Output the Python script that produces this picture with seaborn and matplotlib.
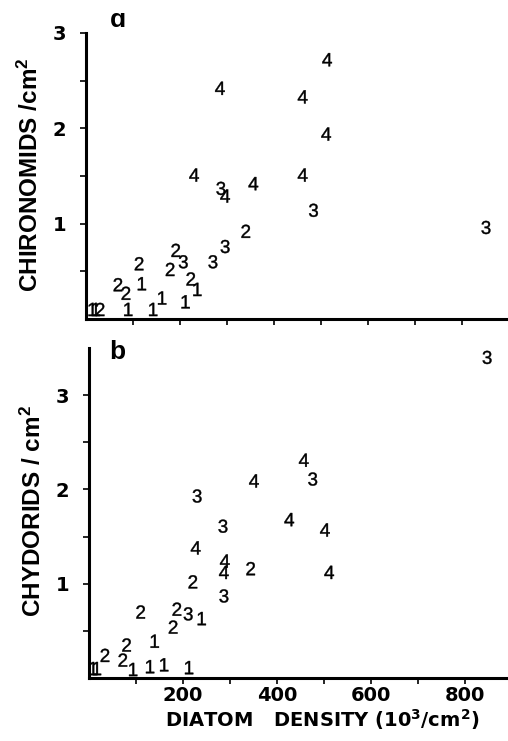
import pandas as pd
import matplotlib.pyplot as plt
import seaborn as sns

# panel a: chironomids vs diatom density, each point drawn as its class digit
a_x = [513, 285, 461, 511, 230, 461, 356, 287, 296, 484, 851, 340, 296, 270, 191,
       207, 179, 113, 68, 85, 119, 223, 237, 162, 212, 90, 143, 14, 21, 30]
a_y = [2.72, 2.42, 2.33, 1.94, 1.51, 1.51, 1.42, 1.37, 1.29, 1.14, 0.96, 0.92, 0.76, 0.60, 0.72,
       0.60, 0.52, 0.58, 0.36, 0.27, 0.37, 0.42, 0.31, 0.22, 0.18, 0.10, 0.10, 0.10, 0.10, 0.10]
a_code = [4, 4, 4, 4, 4, 4, 4, 3, 4, 3, 3, 2, 3, 3, 2,
          3, 2, 2, 2, 2, 1, 2, 1, 1, 1, 1, 1, 1, 1, 2]

# panel b: chydorids vs diatom density
b_x = [847, 457, 476, 351, 230, 426, 285, 502, 227, 289, 344, 287, 511, 221, 287,
       110, 187, 211, 240, 179, 140, 80, 34, 72, 94, 130, 160, 213, 9, 17]
b_y = [3.40, 2.31, 2.11, 2.09, 1.93, 1.68, 1.61, 1.57, 1.38, 1.24, 1.16, 1.12, 1.12, 1.02, 0.87,
       0.70, 0.73, 0.68, 0.63, 0.54, 0.39, 0.35, 0.24, 0.19, 0.09, 0.12, 0.14, 0.11, 0.10, 0.10]
b_code = [3, 4, 3, 4, 3, 4, 3, 4, 4, 4, 2, 4, 4, 2, 3,
          2, 2, 3, 1, 2, 1, 2, 2, 2, 1, 1, 1, 1, 1, 1]

x_ticks = [100, 200, 300, 400, 500, 600, 700, 800]
x_labels = ['', '200', '', '400', '', '600', '', '800']
y_ticks = [0.5, 1, 1.5, 2, 2.5, 3]
y_labels = ['', '1', '', '2', '', '3']

sns.set_theme(style='ticks')
plt.rcParams['font.family'] = ['Liberation Sans', 'DejaVu Sans']
plt.rcParams['mathtext.default'] = 'regular'
for key in ['text.color', 'axes.labelcolor', 'xtick.color', 'ytick.color', 'axes.edgecolor']:
    plt.rcParams[key] = 'black'

df_a = pd.DataFrame({'x': a_x, 'y': a_y, 'code': [str(c) for c in a_code]})
df_b = pd.DataFrame({'x': b_x, 'y': b_y, 'code': [str(c) for c in b_code]})
digit_markers = {str(c): f'${c}$' for c in [1, 2, 3, 4]}

tick_font = dict(family='DejaVu Sans', weight='bold', size=14)
ylab_font = dict(family='Liberation Sans', weight='bold', size=17.5)

fig = plt.figure(figsize=(5.08, 7.41), dpi=100)
ax1 = fig.add_axes([86 / 508, 1 - 319 / 741, 422 / 508, 286 / 741])
ax2 = fig.add_axes([89 / 508, 1 - 678 / 741, 419 / 508, 330 / 741])

for ax, df in [(ax1, df_a), (ax2, df_b)]:
    sns.scatterplot(data=df, x='x', y='y', style='code', markers=digit_markers,
                    color='black', s=90, linewidth=0.3, edgecolor='black',
                    legend=False, ax=ax)
    sns.despine(ax=ax)
    for side in ['left', 'bottom']:
        ax.spines[side].set_linewidth(2.2)
    ax.tick_params(direction='out', length=4, width=1.2, colors='black')
    ax.tick_params(axis='y', pad=10)
    ax.tick_params(axis='x', pad=2)

ax1.set_xlim(0, 422 / 0.47)
ax1.set_ylim(0, 3)
ax1.set_xticks(x_ticks, [''] * len(x_ticks))
ax1.set_yticks(y_ticks, y_labels, **tick_font)
ax1.set_xlabel('')
ax1.set_ylabel('CHIRONOMIDS /cm$^2$', va='center', **ylab_font)
ax1.yaxis.set_label_coords(-0.131, 0.503)

ax2.set_xlim(0, 419 / 0.47)
ax2.set_ylim(0, 3.5)
ax2.set_xticks(x_ticks, x_labels, **tick_font)
ax2.set_yticks(y_ticks, y_labels, **tick_font)
ax2.set_xlabel('DIATOM   DENSITY (10$^3$/cm$^2$)', va='center',
               family='DejaVu Sans', weight='bold', size=14)
ax2.xaxis.set_label_coords(0.556, -0.125)
ax2.set_ylabel('CHYDORIDS / cm$^2$', va='center', **ylab_font)
ax2.yaxis.set_label_coords(-0.134, 0.506)

fig.text(118 / 508, 1 - 20 / 741, 'ɑ', fontsize=19, fontweight='bold', ha='center', va='center')
fig.text(117 / 508, 1 - 352 / 741, 'b', fontsize=19, fontweight='bold', ha='center', va='center')

fig.savefig('out.png', dpi=100)
